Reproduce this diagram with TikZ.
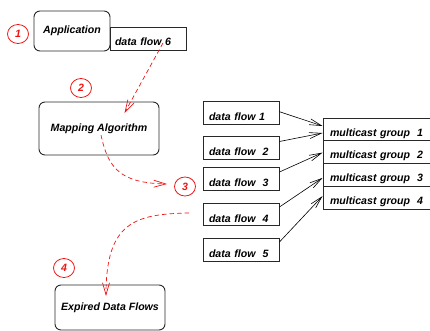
\documentclass[tikz,border=0pt]{standalone}
\usepackage{fontspec}
\setmainfont{Liberation Sans}
\usetikzlibrary{arrows.meta,shapes.geometric}
\definecolor{mark}{RGB}{238,20,20}
\definecolor{edge}{RGB}{40,40,40}
\tikzset{
  lbl/.style={font=\fontsize{10.6}{12}\selectfont\bfseries\itshape},
  roundbox/.style={lbl, draw=edge, line width=0.9pt, rounded corners=6pt, inner sep=0pt},
  flowbox/.style={lbl, draw=edge, line width=0.9pt, inner xsep=6pt, inner ysep=0pt,
    minimum width=76pt, minimum height=22.5pt, text width=64pt, align=left,
    text height=15pt, text depth=0pt},
  groupbox/.style={lbl, draw=edge, line width=0.9pt, inner xsep=7pt, inner ysep=0pt,
    minimum width=110pt, minimum height=22.75pt, text width=96pt, align=left,
    text height=13.4pt, text depth=0pt},
  stepmark/.style={lbl, draw=mark, text=mark, line width=0.8pt, ellipse,
    minimum width=21pt, minimum height=19pt, inner sep=0pt},
  feed/.style={draw=black, line width=0.6pt, -{Straight Barb[length=12pt,width=6pt]}},
  trace/.style={draw=mark, line width=0.7pt, dash pattern=on 4.5pt off 3pt,
    -{Straight Barb[length=12pt,width=7pt]}}
}
\begin{document}
\begin{tikzpicture}[x=1pt,y=-1pt]
\useasboundingbox (0,0) rectangle (430,331);

% step markers
\node[stepmark] (s1) at (18,34) {1};
\node[stepmark] (s2) at (81,88) {2};
\node[stepmark] (s3) at (185,186.5) {3};
\node[stepmark] (s4) at (64,268) {4};

% application and its new flow
\node[roundbox, minimum width=76pt, minimum height=40pt] (app) at (72,31) {Application};
\node[lbl, draw=edge, line width=0.9pt, inner xsep=5pt, inner ysep=0pt,
  minimum width=76pt, minimum height=23pt, text width=66pt, align=left,
  text height=14.5pt, text depth=0pt] (df6) at (148,38.5) {data flow 6};

% mapping algorithm
\node[roundbox, minimum width=120pt, minimum height=53pt] (map) at (99,128.5) {Mapping Algorithm};

% expired flows
\node[roundbox, minimum width=110pt, minimum height=45pt] (exp) at (110,307.5) {Expired Data Flows};

% data flows
\node[flowbox] (df1) at (241,113) {data flow 1};
\node[flowbox] (df2) at (241,148) {data flow\ \ 2};
\node[flowbox] (df3) at (241,179) {data flow\ \ 3};
\node[flowbox] (df4) at (241,214.5) {data flow\ \ 4};
\node[flowbox] (df5) at (241,250) {data flow\ \ 5};

% multicast groups
\node[groupbox] (mg1) at (378,129.4) {multicast group\ \ 1};
\node[groupbox] (mg2) at (378,152.1) {multicast group\ \ 2};
\node[groupbox] (mg3) at (378,174.9) {multicast group\ \ 3};
\node[groupbox] (mg4) at (378,197.6) {multicast group\ \ 4};

% flow to group assignment
\draw[feed] ([yshift=1.3pt]df1.east) -- ([yshift=3.4pt]mg1.west);
\draw[feed] ([yshift=6.5pt]df2.east) -- ([yshift=-3.6pt]mg1.west);
\draw[feed] ([yshift=7pt]df3.east) -- ([yshift=-0.5pt]mg2.west);
\draw[feed] ([yshift=7.5pt]df4.east) -- ([yshift=-3pt]mg3.west);
\draw[feed] ([yshift=8pt]df5.east) -- ([yshift=1.5pt]mg4.west);

% processing trace
\coordinate (a0) at (163,43);
\coordinate (a1) at (124.5,113);
\draw[trace] (a0) -- (a1);
\coordinate (b0) at (101,135);
\coordinate (b1) at (167,184);
\draw[trace] (b0) .. controls (108,168) and (120,183) .. (b1);
\coordinate (c0) at (189,213);
\coordinate (c1) at (106,296);
\draw[trace] (c0) .. controls (135,214) and (106,222) .. (c1);
\end{tikzpicture}
\end{document}
